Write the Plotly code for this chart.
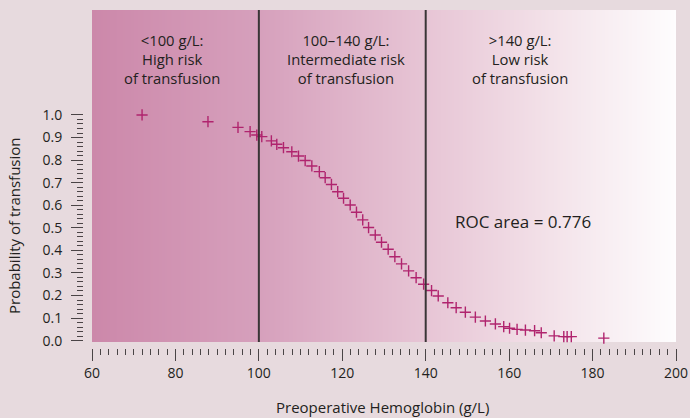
import plotly.graph_objects as go

# preoperative hemoglobin (g/L) vs predicted probability of transfusion
hb = [72, 87.8, 95.0, 97.9, 99.5, 100.7, 103.0, 104.3, 105.9, 107.9,
      109.5, 111.1, 112.7, 114.5, 115.9, 117.4, 118.9, 120.3, 121.9, 123.4,
      124.9, 126.3, 127.9, 129.4, 131.0, 132.6, 134.2, 135.9, 137.7, 139.5,
      141.4, 143.0, 145.3, 147.3, 149.5, 151.9, 154.3, 156.7, 158.7, 160.1,
      161.9, 163.9, 166.1, 167.7, 170.8, 173.1, 173.9, 174.9, 182.7]
prob = [1.0, 0.970, 0.945, 0.926, 0.911, 0.904, 0.885, 0.870, 0.855, 0.837,
        0.818, 0.798, 0.774, 0.749, 0.722, 0.692, 0.660, 0.631, 0.601, 0.569,
        0.535, 0.501, 0.468, 0.436, 0.405, 0.372, 0.340, 0.309, 0.279, 0.250,
        0.222, 0.198, 0.168, 0.146, 0.126, 0.104, 0.087, 0.074, 0.062, 0.055,
        0.050, 0.047, 0.044, 0.035, 0.021, 0.018, 0.018, 0.018, 0.011]

cutoffs = [100, 140]
zone_labels = ['&lt;100 g/L:<br>High risk<br>of transfusion',
               '100–140 g/L:<br>Intermediate risk<br>of transfusion',
               '&gt;140 g/L:<br>Low risk<br>of transfusion']
zone_x = [79.2, 121.0, 162.7]

x_ticks = [60, 80, 100, 120, 140, 160, 180, 200]
y_ticks = [0.0, 0.1, 0.2, 0.3, 0.4, 0.5, 0.6, 0.7, 0.8, 0.9, 1.0]
y_ticktext = ['0.0', '0.1', '0.2', '0.3', '0.4', '0.5', '0.6', '0.7', '0.8', '0.9', '1.0']

FONT = 'Open Sans'
TXT = '#231f20'
BG = '#e7dade'
TICK = '#4a4446'

# background gradient (dark pink on the left fading to white)
grad_scale = [[0.0, 'rgb(204,136,170)'], [40 / 140, 'rgb(214,160,188)'],
              [80 / 140, 'rgb(231,197,213)'], [110 / 140, 'rgb(243,226,233)'],
              [130 / 140, 'rgb(250,244,247)'], [1.0, 'rgb(254,253,254)']]
gx = [60 + i for i in range(141)]

fig = go.Figure()

fig.add_trace(go.Heatmap(
    x=gx, y=[-0.1, 1.6], z=[gx, gx], colorscale=grad_scale, zmin=60, zmax=200,
    zsmooth='best', showscale=False, hoverinfo='skip'))

fig.add_trace(go.Scatter(
    x=hb, y=prob, mode='markers',
    marker=dict(symbol='cross-thin', size=8,
                line=dict(color='#b0246e', width=1.4)),
    cliponaxis=False, showlegend=False))

shapes = []
for c in cutoffs:
    shapes.append(dict(type='line', xref='x', yref='y domain', x0=c, x1=c, y0=0, y1=1,
                       line=dict(color='#3a3536', width=2)))

annotations = []
for lab, xx in zip(zone_labels, zone_x):
    annotations.append(dict(x=xx, y=1.248, xref='x', yref='y', text=lab, showarrow=False,
                            xanchor='center', yanchor='middle',
                            font=dict(family=FONT, size=14.8, color=TXT), align='center'))
annotations.append(dict(x=163.3, y=0.526, xref='x', yref='y', text='ROC area = 0.776',
                        xanchor='center', yanchor='middle', showarrow=False,
                        font=dict(family=FONT, size=17, color=TXT)))
annotations.append(dict(x=14 / 676, y=(348 - 226) / 338, xref='paper', yref='paper',
                        text='Probability of transfusion', textangle=-90, showarrow=False,
                        xanchor='center', yanchor='middle',
                        font=dict(family=FONT, size=15, color=TXT)))
annotations.append(dict(x=383 / 676, y=-59 / 338, xref='paper', yref='paper',
                        text='Preoperative Hemoglobin (g/L)', showarrow=False,
                        xanchor='center', yanchor='middle',
                        font=dict(family=FONT, size=15, color=TXT)))

fig.update_layout(
    width=690, height=418,
    margin=dict(l=0, r=14, t=10, b=70, autoexpand=False),
    paper_bgcolor=BG, plot_bgcolor=BG,
    shapes=shapes, annotations=annotations,
    xaxis=dict(domain=[92 / 676, 1], range=[60, 200], anchor='free', position=0,
               automargin=False,
               tickmode='array', tickvals=x_ticks, ticks='outside', ticklen=12,
               tickcolor=TICK, tickwidth=1, showgrid=False, zeroline=False,
               showline=False, tickfont=dict(family=FONT, size=14, color=TXT),
               minor=dict(tickmode='array', tickvals=[60 + 2 * i for i in range(71)],
                          ticks='outside', ticklen=6, tickcolor=TICK, tickwidth=1)),
    yaxis=dict(domain=[6 / 338, 1], range=[-0.006, 1.465], anchor='free', position=83 / 676,
               automargin=False,
               tickmode='array', tickvals=y_ticks, ticktext=y_ticktext, ticks='outside',
               ticklen=12, tickcolor=TICK, tickwidth=1, showgrid=False, zeroline=False,
               showline=False, ticklabelstandoff=6,
               tickfont=dict(family=FONT, size=14, color=TXT),
               minor=dict(tickmode='array', tickvals=[0.02 * i for i in range(51)],
                          ticks='outside', ticklen=6, tickcolor=TICK, tickwidth=1)),
)

fig.write_html("out.html", config={'displayModeBar': False},
               post_script="document.body.style.margin='0';"
                           "document.body.style.background='%s';" % BG)
